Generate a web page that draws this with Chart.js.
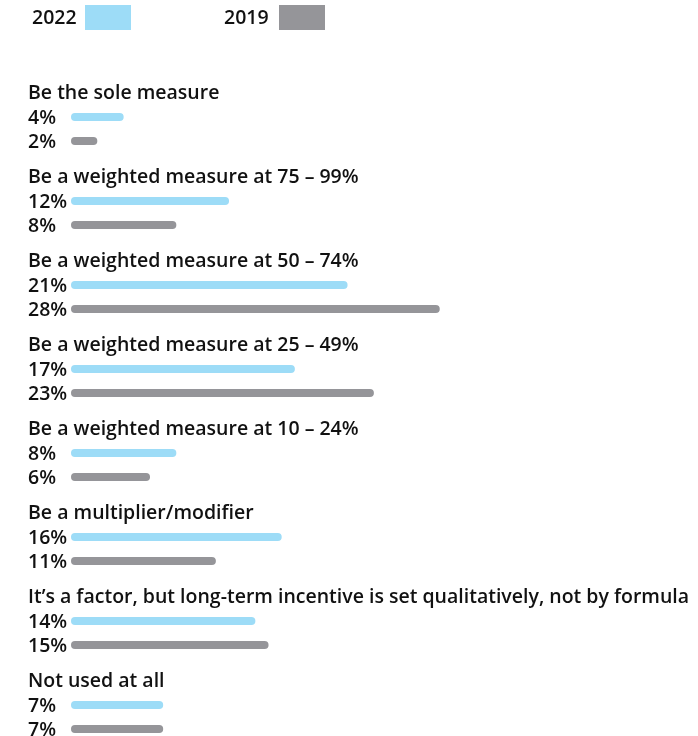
<!DOCTYPE html>
<html><head><meta charset="utf-8">
<style>html,body{margin:0;padding:0;background:#fff}#wrap{width:698px;height:736px;position:relative}</style>
<script src="https://cdn.jsdelivr.net/npm/chart.js@4/dist/chart.umd.min.js"></script>
</head><body><div id="wrap"><canvas id="c"></canvas></div>
<script>
const categories = [
  "Be the sole measure",
  "Be a weighted measure at 75 \u2013 99%",
  "Be a weighted measure at 50 \u2013 74%",
  "Be a weighted measure at 25 \u2013 49%",
  "Be a weighted measure at 10 \u2013 24%",
  "Be a multiplier/modifier",
  "It\u2019s a factor, but long-term incentive is set qualitatively, not by formula",
  "Not used at all"
];
const seriesNames = ["2022", "2019"];
const values2022 = [4, 12, 21, 17, 8, 16, 14, 7];
const values2019 = [2, 8, 28, 23, 6, 11, 15, 7];
const seriesColors = ["#9DDCF7", "#959599"];

const FONT = '600 19.5px "Open Sans", Roboto, sans-serif';
const TEXT = "#111111";

const labelPlugin = {
  id: "labels",
  afterDatasetsDraw(chart) {
    const ctx = chart.ctx;
    ctx.save();
    ctx.font = FONT;
    ctx.fillStyle = TEXT;
    ctx.textBaseline = "middle";
    ctx.textAlign = "left";
    const m0 = chart.getDatasetMeta(0), m1 = chart.getDatasetMeta(1);
    categories.forEach((cat, i) => {
      const b0 = m0.data[i], b1 = m1.data[i];
      ctx.fillText(cat, 28, b0.y - 24);
      ctx.fillText(values2022[i] + "%", 28, b0.y + 1);
      ctx.fillText(values2019[i] + "%", 28, b1.y + 1);
    });
    // legend
    const legendX = [[32, 85], [224, 279]];
    seriesNames.forEach((n, k) => {
      ctx.fillStyle = TEXT;
      ctx.fillText(n, legendX[k][0], 18);
      ctx.fillStyle = seriesColors[k];
      ctx.fillRect(legendX[k][1], 5, 46, 25);
    });
    ctx.restore();
  }
};

new Chart(document.getElementById("c"), {
  type: "bar",
  data: {
    labels: categories,
    datasets: [
      { label: seriesNames[0], data: values2022, backgroundColor: seriesColors[0] },
      { label: seriesNames[1], data: values2019, backgroundColor: seriesColors[1] }
    ]
  },
  options: {
    indexAxis: "y",
    responsive: true,
    maintainAspectRatio: false,
    animation: false,
    categoryPercentage: 0.5714,
    barPercentage: 0.333,
    datasets: { bar: { borderRadius: 4, borderSkipped: false, clip: false } },
    layout: { padding: { left: 71, right: 8, top: 129, bottom: 19 } },
    plugins: { legend: { display: false }, tooltip: { enabled: false } },
    scales: {
      x: { display: false, min: 0, max: 47 },
      y: { display: false, offset: false }
    }
  },
  plugins: [labelPlugin]
});
</script>
</body></html>
